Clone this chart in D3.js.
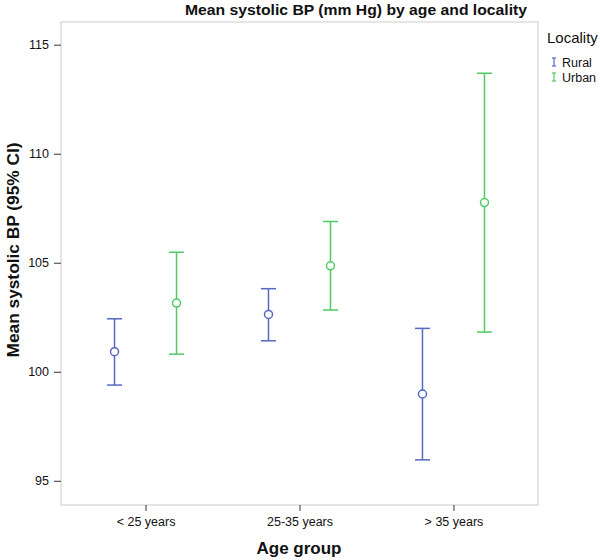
<!DOCTYPE html>
<html>
<head>
<meta charset="utf-8">
<script src="https://cdn.jsdelivr.net/npm/d3@7"></script>
<style>
  html, body { margin: 0; padding: 0; background: #fff; }
  svg { display: block; font-family: "Liberation Sans", Arial, sans-serif; }
</style>
</head>
<body>
<svg id="chart" width="600" height="560"></svg>
<script>
const ageGroups = ["< 25 years", "25-35 years", "> 35 years"];
const seriesNames = ["Rural", "Urban"];
const seriesColors = ["#5468c4", "#4fcb63"];
const ruralMean  = [100.92, 102.63, 98.98];
const ruralLower = [99.39, 101.42, 95.96];
const ruralUpper = [102.43, 103.81, 101.99];
const urbanMean  = [103.15, 104.86, 107.76];
const urbanLower = [100.81, 102.83, 101.82];
const urbanUpper = [105.48, 106.89, 113.69];
const yTicks = [95, 100, 105, 110, 115];

const svg = d3.select("#chart");
const frame = { left: 61, right: 538, top: 22, bottom: 505 };

const x = d3.scalePoint().domain(ageGroups).range([frame.left, frame.right]).padding(0.549);
const xInner = d3.scalePoint().domain(seriesNames).range([-31, 31]);
const y = d3.scaleLinear().domain([93.89, 116.04]).range([frame.bottom, frame.top]);

// frame
svg.append("rect")
  .attr("x", frame.left).attr("y", frame.top)
  .attr("width", frame.right - frame.left).attr("height", frame.bottom - frame.top)
  .attr("fill", "none").attr("stroke", "#d4d4d4").attr("stroke-width", 1.2);

// y axis
const yAxis = svg.append("g")
  .attr("transform", `translate(${frame.left},0)`)
  .call(d3.axisLeft(y).tickValues(yTicks).tickSize(7).tickPadding(5).tickFormat(d3.format("d")));
yAxis.select(".domain").remove();
yAxis.selectAll(".tick line").attr("stroke", "#333").attr("stroke-width", 1);
yAxis.selectAll(".tick text").attr("font-size", 12.5).attr("fill", "#111")
  .attr("font-family", "'Liberation Sans', Arial, sans-serif");

// x axis
const xAxis = svg.append("g")
  .attr("transform", `translate(0,${frame.bottom})`)
  .call(d3.axisBottom(x).tickSize(6).tickPadding(6));
xAxis.select(".domain").remove();
xAxis.selectAll(".tick line").attr("stroke", "#333").attr("stroke-width", 1);
xAxis.selectAll(".tick text").attr("font-size", 12.5).attr("fill", "#111")
  .attr("font-family", "'Liberation Sans', Arial, sans-serif");

// data rows
const rows = [];
ageGroups.forEach((g, i) => {
  rows.push({ group: g, series: "Rural", mean: ruralMean[i], lo: ruralLower[i], hi: ruralUpper[i], color: seriesColors[0] });
  rows.push({ group: g, series: "Urban", mean: urbanMean[i], lo: urbanLower[i], hi: urbanUpper[i], color: seriesColors[1] });
});

const capHalf = 7.5;
const bars = svg.append("g").selectAll("g").data(rows).join("g")
  .attr("transform", d => `translate(${x(d.group) + xInner(d.series)},0)`);
bars.append("line")
  .attr("x1", 0).attr("x2", 0)
  .attr("y1", d => y(d.hi)).attr("y2", d => y(d.lo))
  .attr("stroke", d => d.color).attr("stroke-width", 1.5);
bars.append("line")
  .attr("x1", -capHalf).attr("x2", capHalf)
  .attr("y1", d => y(d.hi)).attr("y2", d => y(d.hi))
  .attr("stroke", d => d.color).attr("stroke-width", 1.5);
bars.append("line")
  .attr("x1", -capHalf).attr("x2", capHalf)
  .attr("y1", d => y(d.lo)).attr("y2", d => y(d.lo))
  .attr("stroke", d => d.color).attr("stroke-width", 1.5);
bars.append("circle")
  .attr("cx", 0).attr("cy", d => y(d.mean)).attr("r", 4)
  .attr("fill", "#fff").attr("stroke", d => d.color).attr("stroke-width", 1.5);

// title
svg.append("text")
  .attr("x", 356).attr("y", 15)
  .attr("text-anchor", "middle")
  .attr("font-size", 14.5).attr("font-weight", "bold").attr("fill", "#111")
  .attr("textLength", 342).attr("lengthAdjust", "spacingAndGlyphs")
  .text("Mean systolic BP (mm Hg) by age and locality");

// y label
svg.append("text")
  .attr("transform", "translate(19,250) rotate(-90)")
  .attr("text-anchor", "middle")
  .attr("font-size", 16).attr("font-weight", "bold").attr("fill", "#111")
  .attr("textLength", 215).attr("lengthAdjust", "spacingAndGlyphs")
  .text("Mean systolic BP (95% CI)");

// x label
svg.append("text")
  .attr("x", 299).attr("y", 554)
  .attr("text-anchor", "middle")
  .attr("font-size", 16).attr("font-weight", "bold").attr("fill", "#111")
  .attr("textLength", 85).attr("lengthAdjust", "spacingAndGlyphs")
  .text("Age group");

// legend
const legend = svg.append("g").attr("transform", "translate(547,0)");
legend.append("text").attr("x", 0).attr("y", 43)
  .attr("font-size", 15).attr("fill", "#111").text("Locality");
const li = legend.selectAll("g.item").data(seriesNames).join("g")
  .attr("class", "item")
  .attr("transform", (d, i) => `translate(0,${62 + i * 15})`);
li.append("line").attr("x1", 7).attr("x2", 7).attr("y1", -4).attr("y2", 4)
  .attr("stroke", (d, i) => seriesColors[i]).attr("stroke-width", 1.2);
li.append("line").attr("x1", 5).attr("x2", 9).attr("y1", -4).attr("y2", -4)
  .attr("stroke", (d, i) => seriesColors[i]).attr("stroke-width", 1.2);
li.append("line").attr("x1", 5).attr("x2", 9).attr("y1", 4).attr("y2", 4)
  .attr("stroke", (d, i) => seriesColors[i]).attr("stroke-width", 1.2);
li.append("text").attr("x", 15).attr("y", 4.5)
  .attr("font-size", 12.5).attr("fill", "#111").text(d => d);
</script>
</body>
</html>
